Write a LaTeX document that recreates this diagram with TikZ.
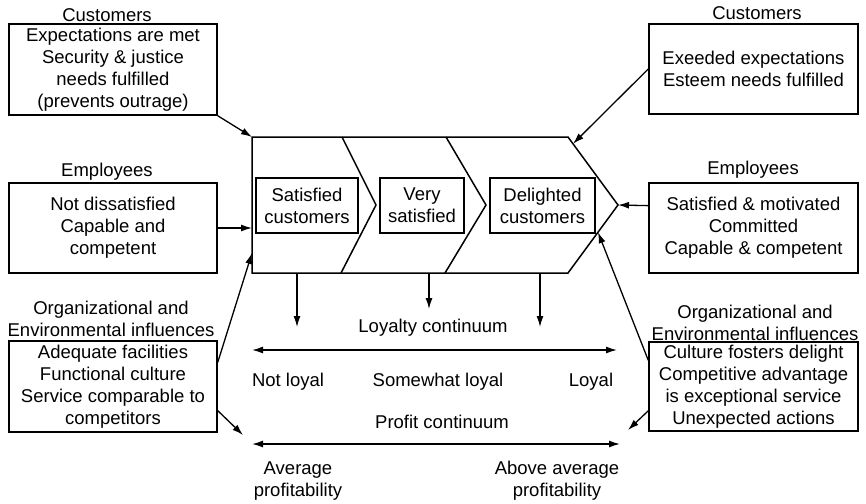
\documentclass[tikz,border=0pt]{standalone}
\usepackage{fontspec}
\setmainfont{Liberation Sans}
\usetikzlibrary{arrows.meta,calc}

\begin{document}
\begin{tikzpicture}[x=1pt, y=-1pt,
	every node/.style={font=\fontsize{18.5}{22}\selectfont, align=center, inner sep=0pt},
	box/.style={draw, line width=1.5pt, minimum width=208pt, minimum height=91pt},
	sbox/.style={draw, line width=1.5pt, minimum height=55pt},
	arr/.style={-{Latex[length=11pt,width=7pt]}, line width=1.3pt},
	darr/.style={{Latex[length=11pt,width=7pt]}-{Latex[length=11pt,width=7pt]}, line width=1.4pt}]
					\useasboundingbox (0,0) rectangle (866,503);
					% left side
					\node (L1t) at (107,15) {Customers};
					\node[box] (L1) at (113,69.5) {Expectations are met\\Security \& justice\\needs fulfilled\\(prevents outrage)};
					\node (L2t) at (107,172) {Employees};
					\node[box, minimum height=90pt] (L2) at (113,228) {Not dissatisfied\\Capable and\\competent};
					\node (L3t) at (111,319) {Organizational and\\Environmental influences};
					\node[box] (L3) at (113,386.5) {Adequate facilities\\Functional culture\\Service comparable to\\competitors};
					% right side
					\node (R1t) at (757,13) {Customers};
					\node[box, minimum width=209pt, minimum height=90pt] (R1) at (753.5,69) {Exeeded expectations\\Esteem needs fulfilled};
					\node (R2t) at (753,170) {Employees};
					\node[box, minimum width=209pt, minimum height=90pt] (R2) at (753.5,228) {Satisfied \& motivated\\Committed\\Capable \& competent};
					\node (R3t) at (755,323) {Organizational and\\Environmental influences};
					\node[box, minimum width=209pt, minimum height=89pt] (R3) at (753.5,386.5) {Culture fosters delight\\Competitive advantage\\is exceptional service\\Unexpected actions};
					% chevron
					\coordinate (C1) at (252,137);
					\coordinate (C2) at (568,137);
					\coordinate (C3) at (618,205);
					\coordinate (C4) at (568,273);
					\coordinate (C5) at (252,273);
					\draw[line width=1.5pt, line join=miter] (C1) -- (C2) -- (C3) -- (C4) -- (C5) -- cycle;
					\draw[line width=1.5pt] (342,137) -- (376,205) -- (341,273);
					\draw[line width=1.5pt] (446,137) -- (486,205) -- (445,273);
					\node[sbox, minimum width=102pt] (S1) at (307,205.5) {Satisfied\\customers};
					\node[sbox, minimum width=84pt] (S2) at (422,205.5) {Very\\satisfied};
					\node[sbox, minimum width=105pt] (S3) at (542.5,205.5) {Delighted\\customers};
					% influences
					\draw[arr] (L1.south east) -- (C1);
					\draw[arr] (L2.east) -- (C1|-L2.east);
					\draw[arr] (L3.13) -- (252,253);
					\draw[arr] (R1.west) -- ($(C2)!0.1!(C3)$);
					\draw[arr] (R2.168) -- (C3);
					\draw[arr] (R3.166) -- ($(C3)!0.4!(C4)$);
					% continua
					\coordinate (D1) at (297,273);
					\coordinate (E1) at (297,327);
					\coordinate (D2) at (429,273);
					\coordinate (E2) at (429,309);
					\coordinate (D3) at (540,273);
					\coordinate (E3) at (540,327);
					\draw[arr] (D1) -- (E1);
					\draw[arr] (D2) -- (E2);
					\draw[arr] (D3) -- (E3);
					\node (Lc) at (433,328) {Loyalty continuum};
					\coordinate (LA) at (252,350);
					\coordinate (LB) at (617,350);
					\draw[darr] (LA) -- (LB);
					\node (N1) at (288,382) {Not loyal};
					\node (N2) at (438,382) {Somewhat loyal};
					\node (N3) at (591,382) {Loyal};
					\node (Pc) at (442,422) {Profit continuum};
					\coordinate (PA) at (252,444);
					\coordinate (PB) at (620,444);
					\draw[darr] (PA) -- (PB);
					\coordinate (QA) at (243,435);
					\coordinate (QB) at (628,430);
					\draw[arr] (L3.-13) -- (QA);
					\draw[arr] (R3.193) -- (QB);
					\node (A1) at (298,481) {Average\\profitability};
					\node (A2) at (557,481) {Above average\\profitability};
				\end{tikzpicture}
\end{document}
